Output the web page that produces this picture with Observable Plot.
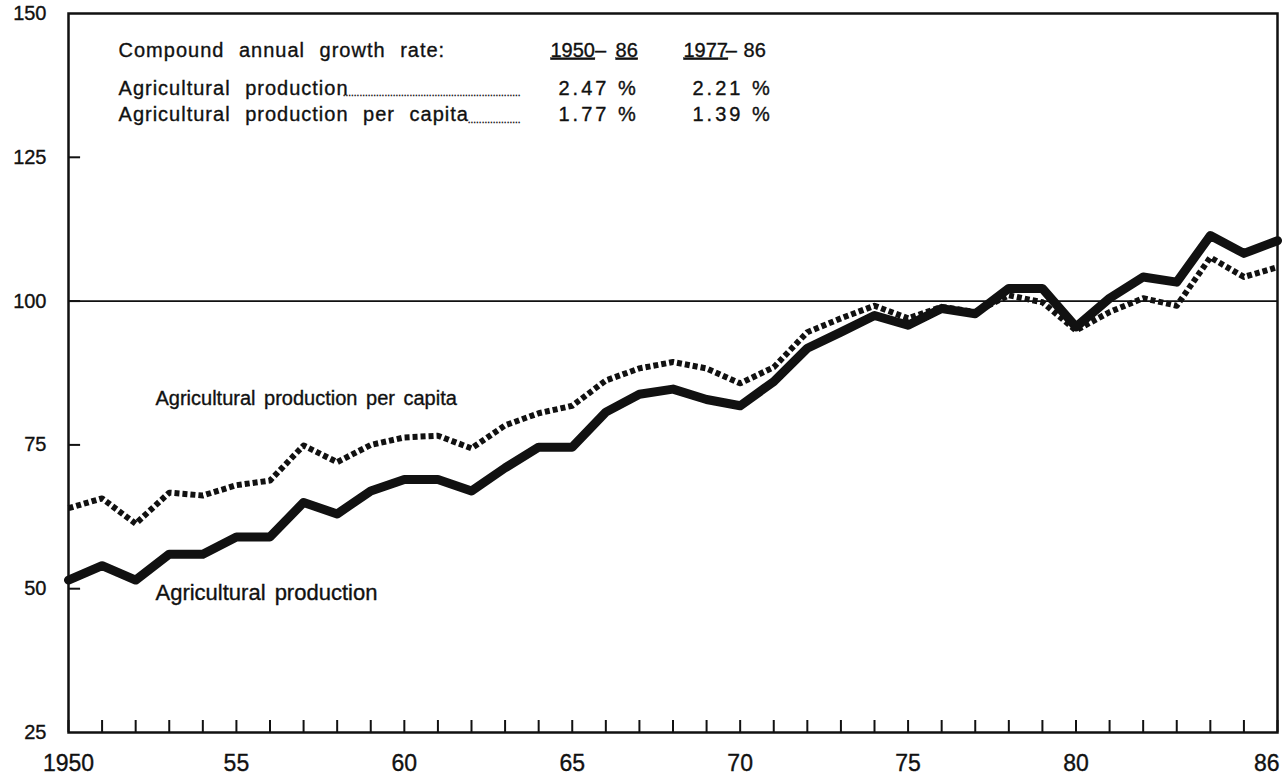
<!DOCTYPE html>
<html><head><meta charset="utf-8">
<script src="https://cdn.jsdelivr.net/npm/d3@7"></script>
<script src="https://cdn.jsdelivr.net/npm/@observablehq/plot@0.6"></script>
<style>
body{margin:0;background:#fff}
svg text{stroke:#111;stroke-width:0.35px}
</style>
</head><body><div id="chart"></div>
<script>
// ---- data ----
const years = [1950,1951,1952,1953,1954,1955,1956,1957,1958,1959,
               1960,1961,1962,1963,1964,1965,1966,1967,1968,1969,
               1970,1971,1972,1973,1974,1975,1976,1977,1978,1979,
               1980,1981,1982,1983,1984,1985,1986];
const production = [51.5,54,51.5,56,56,59,59,65,63,67,
                    69,69,67,71,74.6,74.6,80.7,83.8,84.7,82.9,
                    81.8,86,91.8,94.6,97.5,95.8,98.7,97.8,102.2,102.2,
                    95.5,100.5,104.2,103.3,111.4,108.3,110.5];
const perCapita = [64,65.7,61.3,66.7,66.2,68,68.8,74.9,72,75,
                   76.3,76.6,74.4,78.4,80.5,81.8,86.2,88.3,89.4,88.3,
                   85.7,88.5,94.6,97,99.2,97,99,98.1,101,99.8,
                   94.9,98.1,100.5,99.2,107.6,104.2,105.9];
const yTicks = [25,50,75,100,125,150];
const yInnerTicks = [50,75,100,125];
const xLabelYears = [1950,1955,1960,1965,1970,1975,1980];
const xLabelText = ["1950","55","60","65","70","75","80"];
const lastYearLabel = "86";
const headerTitle = "Compound annual growth rate:";
const periodLabels = ["1950","–","86","1977","–","86"];
const seriesNames = ["Agricultural production","Agricultural production per capita"];
const rate1950_86 = ["2.47 %","1.77 %"];
const rate1977_86 = ["2.21 %","1.39 %"];

const prodRows = years.map((y,i)=>({year:y, value:production[i]}));
const capRows = years.map((y,i)=>({year:y, value:perCapita[i]}));

const ink = "#111";
const font = "'Liberation Sans', Arial, Helvetica, sans-serif";

// annotation layout (data coordinates)
const rowY = [143.6, 137.0, 132.4];
const periodX = [1964.35, 1965.68, 1966.29, 1968.31, 1969.57, 1970.10];
const periodUnderline = [true,false,true,true,false,false];
const headerItems = periodLabels.map((t,i)=>({t, x:periodX[i], ul:periodUnderline[i]}));

const chart = Plot.plot({
  width: 1282, height: 780,
  marginLeft: 68, marginRight: 5, marginTop: 13, marginBottom: 48,
  x: {domain: [1950, 1986], label: null},
  y: {domain: [25, 150], label: null},
  style: {fontFamily: font, color: ink, background: "#fff", overflow: "visible"},
  marks: [
    Plot.ruleY([100], {stroke: ink, strokeWidth: 1.6}),
    Plot.line(capRows, {x: "year", y: "value", stroke: ink, strokeWidth: 6, strokeDasharray: "5,3", strokeLinecap: "butt", ariaDescription: "percap"}),
    Plot.line(prodRows, {x: "year", y: "value", stroke: ink, strokeWidth: 9, strokeLinejoin: "round"}),
    Plot.frame({stroke: ink, strokeWidth: 2.5}),
    // inward year ticks
    Plot.axisX({ticks: years, tickSize: 12, dy: -12, tickFormat: () => "", strokeWidth: 2, stroke: ink, label: null}),
    Plot.axisX({ticks: xLabelYears, tickSize: 0, tickPadding: 22, tickFormat: (d) => xLabelText[xLabelYears.indexOf(d)], fontSize: 23, fill: ink, label: null}),
    Plot.axisX({ticks: [1986], tickSize: 0, tickPadding: 22, tickFormat: () => lastYearLabel, fontSize: 23, fill: ink, textAnchor: "end", dx: 2, label: null}),
    // inward value ticks (about 12px long)
    Plot.ruleY(yInnerTicks, {x1: 1950, x2: 1950.36, stroke: ink, strokeWidth: 2}),
    Plot.axisY({ticks: yTicks, tickSize: 0, tickPadding: 22, fontSize: 20, fill: ink, label: null}),
    // header block
    Plot.text([headerTitle], {x: 1951.49, y: rowY[0], text: d => d, textAnchor: "start", lineAnchor: "middle", fontSize: 20, fill: ink, ariaDescription: "hdr-text"}),
    Plot.text(headerItems.filter(d=>d.ul), {x: "x", y: rowY[0], text: "t", textAnchor: "start", lineAnchor: "middle", fontSize: 20, fill: ink, ariaDescription: "hdr-ul"}),
    Plot.text(headerItems.filter(d=>!d.ul), {x: "x", y: rowY[0], text: "t", textAnchor: "start", lineAnchor: "middle", fontSize: 20, fill: ink}),
    Plot.text([seriesNames[0], seriesNames[1]], {x: 1951.49, y: (d,i) => rowY[i+1], text: d => d, textAnchor: "start", lineAnchor: "middle", fontSize: 20, fill: ink, ariaDescription: "hdr-text"}),
    Plot.text([".".repeat(64), ".".repeat(19)], {x: 1963.46, y: (d,i) => rowY[i+1], text: d => d, textAnchor: "end", lineAnchor: "middle", dy: 5, fontSize: 10, fill: ink}),
    Plot.text(rate1950_86, {x: 1964.59, y: (d,i) => rowY[i+1], text: d => d, textAnchor: "start", lineAnchor: "middle", fontSize: 20, fill: ink, ariaDescription: "hdr-rates"}),
    Plot.text(rate1977_86, {x: 1968.58, y: (d,i) => rowY[i+1], text: d => d, textAnchor: "start", lineAnchor: "middle", fontSize: 20, fill: ink, ariaDescription: "hdr-rates"}),
    // series labels
    Plot.text([seriesNames[1]], {x: 1952.59, y: 83.1, text: d => d, textAnchor: "start", lineAnchor: "middle", fontSize: 20, fill: ink, ariaDescription: "series-label"}),
    Plot.text([seriesNames[0]], {x: 1952.59, y: 49.3, text: d => d, textAnchor: "start", lineAnchor: "middle", fontSize: 22, fill: ink, ariaDescription: "series-label"})
  ]
});

const svg = d3.select(chart);
function groupFs(el){ const g = el.closest("g[font-size]"); return g ? +g.getAttribute("font-size") : NaN; }
svg.selectAll("text").each(function(){
  const t = this.textContent, fs = groupFs(this);
  const g = this.parentNode;
  const desc = g && g.getAttribute ? g.getAttribute("aria-description") : null;
  if (desc === "hdr-text" || (fs === 20 && (t === headerTitle || seriesNames.includes(t)))) {
    this.style.letterSpacing = "1px"; this.style.wordSpacing = "8px";
  }
  if (desc === "series-label") { this.style.letterSpacing = "0px"; this.style.wordSpacing = "3px"; }
  if (desc === "hdr-rates" || rate1950_86.includes(t) || rate1977_86.includes(t)) {
    this.style.letterSpacing = "3px";
  }
  if (desc === "hdr-ul") { this.style.textDecoration = "underline"; }
});
svg.selectAll('g[aria-description="percap"] path').attr("stroke-dasharray", "5,3");
document.getElementById("chart").append(chart);
</script>
</body></html>
